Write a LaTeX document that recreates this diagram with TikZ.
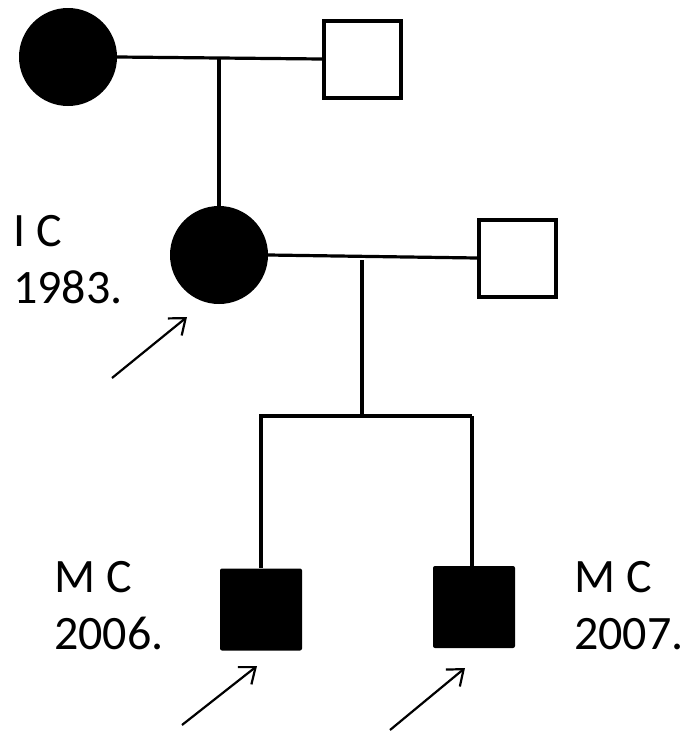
\documentclass[tikz,border=0pt]{standalone}
\usepackage{fontspec}
\setmainfont{Carlito}
\usetikzlibrary{arrows.meta,calc}
\begin{document}
\begin{tikzpicture}[x=1pt,y=-1pt,
  female/.style={circle,fill=black,minimum size=98pt,inner sep=0pt},
  male/.style={rectangle,draw=black,line width=4pt,fill=white,minimum size=77pt,inner sep=0pt},
  affected/.style={rectangle,fill=black,rounded corners=2pt,minimum size=82pt,inner sep=0pt},
  link/.style={line width=3.2pt},
  proband/.style={line width=2.2pt,-{Straight Barb[length=14pt,width=22pt,line width=2.2pt]}},
  tag/.style={font=\fontsize{48}{57}\selectfont,align=left,anchor=base west,inner sep=0pt}]
\useasboundingbox (0,0) rectangle (688,731);

% generation I
\node[female] (c1) at (68,57) {};
\node[male]   (s1) at (362.5,59) {};
% generation II
\node[female] (c2) at (219,255) {};
\node[male]   (s2) at (517.5,258) {};
% generation III
\node[affected] (k1) at (261,609.5) {};
\node[affected] (k2) at (474,607) {};

% couple and descent lines
\coordinate (m1) at (219,58);
\coordinate (m2) at (362,260);
\coordinate (sib) at (362,416);
\coordinate (b1) at (259,416);
\coordinate (b2) at (472,416);
\draw[link] (c1.east) -- (s1.west);
\draw[link] (m1) -- (c2.north);
\draw[link] (c2.east) -- (s2.west);
\draw[link] (m2) -- (sib);
\draw[link] (b1) -- (b2);
\draw[link] (b1 -| k1.north) -- (k1.north);
\draw[link] (b2) -- (b2 |- k2.north);

% proband arrows
\coordinate (p1) at (112,378);
\coordinate (p2) at (182,725);
\coordinate (p3) at (390,730);
\coordinate (t1) at (187,317);
\coordinate (t2) at (257,666);
\coordinate (t3) at (465,668);
\draw[proband] (p1) -- (t1);
\draw[proband] (p2) -- (t2);
\draw[proband] (p3) -- (t3);

% names and years (base anchor sits on the last line)
\node[tag] (l1) at (13,303) {I C\\1983.};
\node[tag] (l2) at (54,649) {M C\\2006.};
\node[tag] (l3) at (574,649) {M C\\2007.};
\end{tikzpicture}
\end{document}
